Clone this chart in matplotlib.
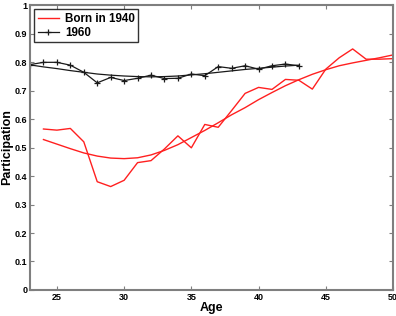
import matplotlib
matplotlib.use("Agg")
import matplotlib.pyplot as plt
from matplotlib.ticker import FuncFormatter

# Born in 1940: observed participation and fitted curve
ages_1940 = list(range(24, 51))
obs_1940 = [0.565, 0.561, 0.567, 0.520, 0.380, 0.363, 0.385, 0.447, 0.454, 0.495,
            0.541, 0.499, 0.581, 0.571, 0.630, 0.690, 0.711, 0.704, 0.739, 0.736,
            0.705, 0.775, 0.815, 0.846, 0.810, 0.810, 0.812]
fit_1940 = [0.528, 0.512, 0.496, 0.481, 0.470, 0.463, 0.461, 0.464, 0.474, 0.490,
            0.510, 0.535, 0.560, 0.587, 0.615, 0.640, 0.668, 0.693, 0.717, 0.738,
            0.757, 0.773, 0.787, 0.797, 0.806, 0.815, 0.825]

# Born in 1960
ages_1960 = list(range(23, 44))
obs_1960 = [0.791, 0.799, 0.799, 0.789, 0.764, 0.727, 0.746, 0.735, 0.743, 0.754,
            0.742, 0.743, 0.758, 0.752, 0.784, 0.778, 0.787, 0.775, 0.787, 0.793,
            0.787]
fit_1960 = [0.790, 0.783, 0.777, 0.770, 0.764, 0.758, 0.754, 0.751, 0.749, 0.748,
            0.749, 0.751, 0.755, 0.759, 0.764, 0.769, 0.774, 0.778, 0.782, 0.786,
            0.789]

RED = "#ff2020"
BLACK = "#1a1a1a"
SPINE = "#7f7f7f"

plt.rcParams.update({
    "font.family": ["Liberation Sans", "DejaVu Sans"],
    "font.weight": "bold",
})

fig = plt.figure(figsize=(3.96, 3.16), dpi=100)
ax = fig.add_axes([0.0758, 0.0823, 0.9166, 0.9017])

ax.plot(ages_1940, obs_1940, color=RED, linewidth=1.0, label="Born in 1940")
ax.plot(ages_1960, obs_1960, color=BLACK, linewidth=0.9, marker="+",
        markersize=5, markeredgewidth=0.9, label="1960")
ax.plot(ages_1940, fit_1940, color=RED, linewidth=1.0)
ax.plot(ages_1960, fit_1960, color=BLACK, linewidth=0.9)

ax.set_xlim(23, 50)
ax.set_ylim(0, 1)
ax.set_xticks([25, 30, 35, 40, 45, 50])
ax.set_yticks([i / 10 for i in range(11)])
ax.yaxis.set_major_formatter(FuncFormatter(lambda v, p: f"{v:g}"))

ax.tick_params(direction="in", top=True, right=True, length=3, width=0.8,
               color=SPINE, labelsize=6.5, pad=2)
for lab in ax.get_xticklabels() + ax.get_yticklabels():
    lab.set_fontweight("bold")
for s in ax.spines.values():
    s.set_color(SPINE)
    s.set_linewidth(1.5)

ax.set_xlabel("Age", fontsize=9, fontweight="bold", labelpad=0)
ax.set_ylabel("Participation", fontsize=9, fontweight="bold", labelpad=1)

leg = ax.legend(loc="upper left", fontsize=8.4, frameon=True, fancybox=False,
                borderpad=0.3, handlelength=1.8, labelspacing=0.2,
                borderaxespad=0.35, handletextpad=0.55)
leg.get_frame().set_edgecolor("black")
leg.get_frame().set_linewidth(1.0)
for t in leg.get_texts():
    t.set_fontweight("bold")

fig.savefig("out.png", dpi=100)
